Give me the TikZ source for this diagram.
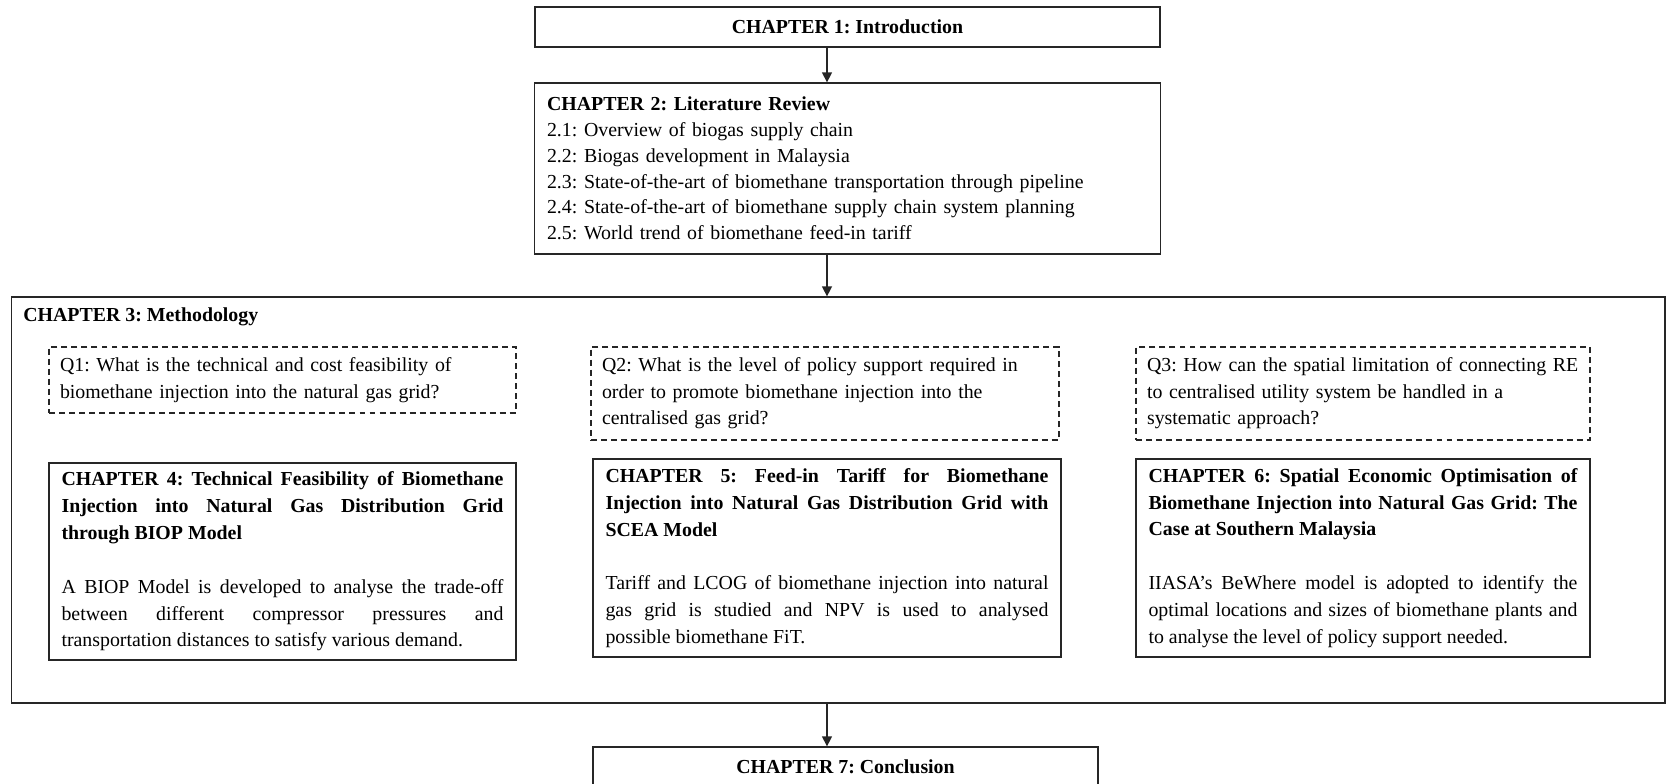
\documentclass[tikz,border=0pt]{standalone}
\usepackage{fontspec}
\setmainfont{Liberation Serif}
\usepackage{tikz}
\usetikzlibrary{arrows.meta, positioning, calc}
\definecolor{boxline}{HTML}{262626}
\newcommand{\chapfont}{\fontsize{11.3}{15.3}\selectfont}
\newcommand{\listfont}{\fontsize{11.3}{14.7}\selectfont}
\frenchspacing

\begin{document}
\begin{tikzpicture}[x=0.02cm, y=-0.02cm,
  chapbox/.style={draw=boxline, line width=0.75pt, inner xsep=0.25cm, inner ysep=0pt, font=\chapfont},
  qbox/.style={draw=boxline, line width=0.7pt, dash pattern=on 3.4pt off 2.3pt, inner xsep=0.22cm, inner ysep=0pt, align=left, font=\fontsize{11.3}{15.1}\selectfont},
  flow/.style={draw=boxline, line width=0.75pt, -{Triangle[length=0.2cm, width=0.2cm]}}]
\useasboundingbox (0,0) rectangle (1666,784);

\node[chapbox, minimum width=12.5cm, minimum height=0.8cm, font=\chapfont\bfseries] (ch1) at (847.5,27) {CHAPTER 1: Introduction};

\node[chapbox, text width=12.02cm, minimum height=3.42cm, align=left, font=\listfont] (ch2) at (847.5,168.5)
  {\textbf{CHAPTER 2: Literature Review}\\
   2.1: Overview of biogas supply chain\\
   2.2: Biogas development in Malaysia\\
   2.3: State-of-the-art of biomethane transportation through pipeline\\
   2.4: State-of-the-art of biomethane supply chain system planning\\
   2.5: World trend of biomethane feed-in tariff};

\node[chapbox, minimum width=33.08cm, minimum height=8.12cm] (ch3) at (838,500) {};
\node[anchor=west, inner sep=0pt, font=\chapfont\bfseries] (ch3title) at (23,317) {CHAPTER 3: Methodology};

\node[qbox, text width=8.90cm, minimum height=1.32cm] (q1) at (282.5,380)
  {Q1: What is the technical and cost feasibility of\\
   biomethane injection into the natural gas grid?};
\node[qbox, text width=8.92cm, minimum height=1.86cm] (q2) at (825,393.5)
  {Q2: What is the level of policy support required in\\
   order to promote biomethane injection into the\\
   centralised gas grid?};
\node[qbox, text width=8.64cm, minimum height=1.86cm] (q3) at (1363,393.5)
  {Q3: How can the spatial limitation of connecting RE\\
   to centralised utility system be handled in a\\
   systematic approach?};

\node[chapbox, text width=8.84cm, minimum height=3.94cm, align=justify] (ch4) at (282.5,561.5)
  {\textbf{CHAPTER 4: Technical Feasibility of Biomethane\linebreak
   Injection into Natural Gas Distribution Grid\linebreak
   through BIOP Model}\\[15.3pt]
   A BIOP Model is developed to analyse the trade-off\linebreak
   between different compressor pressures and\linebreak
   transportation distances to satisfy various demand.};
\node[chapbox, text width=8.86cm, minimum height=3.96cm, align=justify] (ch5) at (827,558)
  {\textbf{CHAPTER 5: Feed-in Tariff for Biomethane\linebreak
   Injection into Natural Gas Distribution Grid with\linebreak
   SCEA Model}\\[15.3pt]
   Tariff and LCOG of biomethane injection into natural\linebreak
   gas grid is studied and NPV is used to analysed\linebreak
   possible biomethane FiT.};
\node[chapbox, text width=8.58cm, minimum height=3.96cm, align=justify] (ch6) at (1363,558)
  {\textbf{CHAPTER 6: Spatial Economic Optimisation of\linebreak
   Biomethane Injection into Natural Gas Grid: The\linebreak
   Case at Southern Malaysia}\\[15.3pt]
   IIASA's BeWhere model is adopted to identify the\linebreak
   optimal locations and sizes of biomethane plants and\linebreak
   to analyse the level of policy support needed.};

\node[chapbox, minimum width=10.1cm, minimum height=0.8cm, font=\chapfont\bfseries] (ch7) at (845.5,767) {CHAPTER 7: Conclusion};

\coordinate (spine) at (827,0);
\draw[flow] (ch1.south -| spine) -- (ch2.north -| spine);
\draw[flow] (ch2.south -| spine) -- (ch3.north -| spine);
\draw[flow] (ch3.south -| spine) -- (ch7.north -| spine);
\end{tikzpicture}
\end{document}
